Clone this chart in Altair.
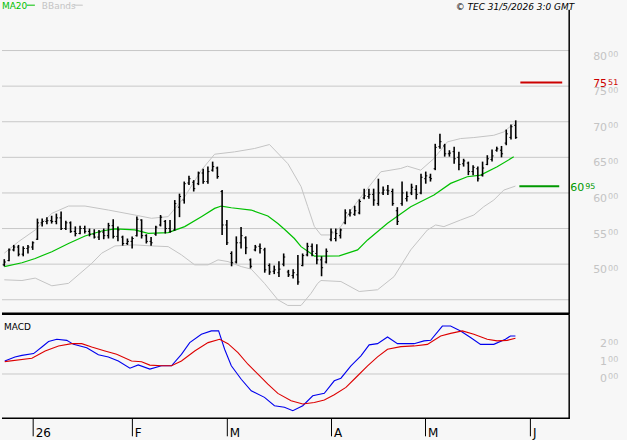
import altair as alt
import pandas as pd

# ---------------- data ----------------
HIGH = [50.7,52.2,52.7,52.7,52.5,52.7,53.2,56.4,56.4,56.6,
        56.8,57.1,57.4,56.1,56.0,55.3,55.4,55.4,55.0,54.9,
        54.8,55.0,55.8,56.3,55.3,54.0,53.6,53.9,56.7,56.3,
        54.2,53.8,55.4,56.9,56.2,56.2,59.0,59.9,61.6,62.4,
        61.8,63.0,63.4,63.7,64.4,63.7,60.4,56.2,51.8,53.9,
        55.2,53.9,50.8,52.7,52.9,52.3,50.1,49.8,50.4,51.5,
        49.2,49.3,51.3,51.5,53.0,52.9,52.8,51.1,52.2,55.0,
        55.0,55.0,57.7,57.7,58.2,59.1,60.6,60.6,60.6,62.0,
        60.9,61.1,60.6,58.0,61.6,60.2,61.3,61.1,62.7,63.0,
        62.7,66.9,68.3,66.9,66.0,66.5,65.8,64.8,64.4,63.9,
        63.7,64.4,65.3,66.1,66.5,66.6,68.9,69.6,70.2]
LOW = [49.7,50.4,51.8,51.1,51.1,51.5,52.0,53.4,55.3,55.6,
       55.7,55.6,54.8,54.8,54.4,53.9,54.2,54.3,53.9,53.6,
       53.4,53.5,53.6,53.6,53.2,52.6,52.7,52.2,53.9,53.6,
       52.9,52.6,54.0,55.3,54.3,54.4,54.7,56.6,58.5,61.1,
       60.2,61.1,61.3,61.3,63.0,62.0,54.1,52.7,49.7,50.1,
       52.2,51.4,49.4,51.8,51.5,48.8,48.5,48.6,48.2,49.7,
       48.2,48.0,47.1,49.7,51.1,51.1,50.0,48.3,50.1,53.2,
       53.2,53.6,55.6,56.7,56.8,57.0,59.1,59.2,58.2,58.2,
       59.7,59.7,58.2,55.5,58.2,58.8,59.7,59.1,59.8,61.3,
       61.6,63.2,66.2,65.1,65.1,64.1,63.2,63.7,62.5,62.5,
       61.6,62.3,63.9,64.4,65.8,65.0,66.7,67.5,67.6]
OPEN = [49.9,50.5,52.0,52.4,51.4,52.2,52.4,53.5,55.8,56.0,
        56.1,56.0,56.5,55.0,55.8,54.6,54.3,55.0,54.6,54.2,
        53.8,54.5,54.0,55.4,53.9,53.8,52.9,53.2,54.0,56.2,
        54.0,53.2,54.2,55.5,56.0,55.0,54.8,58.0,59.0,61.4,
        61.5,61.3,62.8,61.6,63.2,63.5,60.2,55.5,51.5,50.3,
        53.0,53.7,50.6,52.0,52.5,52.0,49.8,49.0,48.8,50.0,
        48.9,48.4,48.5,49.8,51.3,52.5,51.5,50.6,50.3,53.5,
        53.6,54.0,55.8,57.0,57.0,57.2,59.3,59.5,59.8,58.5,
        60.0,60.4,60.2,57.5,58.5,59.2,60.0,60.5,60.0,62.0,
        62.2,63.4,66.5,66.6,65.5,65.8,65.0,64.1,64.2,63.0,
        63.4,62.5,64.0,64.7,66.0,66.0,67.0,67.8,69.5]
CLOSE = [50.3,52.0,52.4,51.4,52.2,52.4,53.0,55.8,56.0,56.1,
         56.0,56.5,55.0,55.8,54.6,54.3,55.0,54.6,54.2,53.8,
         54.5,54.0,55.4,53.9,54.8,52.9,53.2,53.6,56.3,54.0,
         53.2,53.0,55.2,56.6,55.0,54.6,58.5,59.5,61.3,62.0,
         60.6,62.8,61.6,63.0,63.7,62.3,55.5,53.0,50.2,53.0,
         54.0,52.3,49.7,52.4,52.2,49.2,48.9,49.2,49.3,51.0,
         48.5,48.8,47.5,51.2,52.5,51.8,50.6,49.5,51.8,54.5,
         54.3,54.8,57.2,57.2,57.5,58.8,59.6,59.8,59.0,60.0,
         60.4,60.3,58.5,56.0,60.0,59.5,60.8,59.8,62.2,62.4,
         62.0,66.4,67.2,65.5,65.6,64.8,64.0,64.5,63.0,63.6,
         62.0,63.5,64.8,65.2,66.2,65.5,68.3,69.3,67.8]

MA20_I = [0,3.73,6.53,10.04,13.56,17.05,20.57,23.37,27.58,30.4,
          34.61,38.1,41.62,44.42,45.83,47.94,52.15,55.66,57.77,59.16,
          61.26,62.67,64.78,65.47,70.74,74.61,76.72,80.93,85.83,90.74,
          94.25,97.77,100.57,104.08,107.58]
MA20_V = [49.66,50.2,50.8,51.75,52.9,53.96,54.66,54.94,54.8,54.33,
          54.43,55.27,56.67,57.83,58.16,57.92,57.6,56.76,55.7,54.9,
          53.6,52.46,51.5,51.13,51.16,52.0,53.4,55.73,58.07,59.7,
          61.34,62.27,62.5,63.67,65.07]

UP_I = [0,3.03,6.53,10.04,13.56,17.05,21.98,27.58,31.09,34.61,
        38.1,41.62,44.42,48.63,52.84,56.0,59.9,62.67,64.08,65.47,
        66.88,68.99,71.09,73.2,76.72,79.52,83.73,85.14,87.94,90.74,
        93.56,96.36,99.16,103.37,105.47,107.58]
UP_V = [51.54,53.17,54.8,57.13,58.16,58.16,57.6,56.9,56.44,56.67,
        59.46,63.2,65.44,65.77,66.24,66.8,64.1,60.9,58.07,55.3,
        54.1,54.1,55.27,57.6,60.64,62.97,63.44,63.76,63.2,64.84,
        67.17,67.64,67.78,68.1,68.57,69.74]

LO_I = [0,3.73,6.53,10.04,13.56,18.46,20.57,23.37,27.58,31.09,
        34.61,37.41,40.21,43.03,45.14,47.24,50.04,52.15,54.95,57.77,
        59.87,62.67,64.78,66.18,66.88,71.09,74.95,78.82,82.32,85.83,
        89.35,91.09,92.84,96.36,99.16,101.26,103.37,105.47,107.94]
LO_V = [47.8,47.7,48.04,46.96,47.3,50.1,51.54,52.56,52.7,52.56,
        52.46,51.3,49.9,49.9,50.6,50.36,49.66,49.3,47.3,45.0,
        44.2,44.2,45.9,47.3,47.7,47.56,46.16,46.4,48.26,52.0,
        54.8,55.5,55.27,56.2,56.9,58.07,59.0,60.4,60.96]

MACD_I = [0.1,2.25,3.73,6.19,7.94,9.35,11.09,13.2,14.61,17.41,
          19.87,21.98,24.08,26.53,28.29,30.74,33.2,35.31,37.41,39.16,
          41.62,43.73,45.26,46.53,47.94,50.04,52.15,54.95,57.05,59.16,
          60.93,63.03,65.14,67.58,69.68,71.09,73.2,75.31,77.05,78.82,
          80.93,83.03,86.53,88.63,90.04,92.51,94.25,96.36,98.46,100.57,
          103.37,105.83,106.88,107.94]
MACD_V = [0.75,0.98,1.07,1.17,1.55,1.86,1.99,1.93,1.70,1.51,
          1.10,0.98,0.75,0.33,0.52,0.28,0.47,0.47,1.13,1.80,
          2.28,2.47,2.47,1.42,0.47,-0.30,-0.96,-1.34,-1.82,-1.91,
          -2.10,-1.82,-1.25,-1.11,-0.39,-0.24,0.47,1.04,1.67,1.74,
          2.12,1.74,1.74,1.90,1.93,2.75,2.75,2.47,2.09,1.70,
          1.70,1.99,2.18,2.18]
SIG_I = [0.1,5.83,8.63,11.45,14.25,16.36,18.46,21.26,23.73,26.88,
         28.99,30.74,33.2,35.31,37.41,40.21,43.03,45.47,47.24,49.35,
         51.45,53.56,55.66,57.77,60.57,63.03,65.47,67.58,69.68,72.15,
         74.25,76.72,78.82,80.93,83.73,86.53,89.35,92.15,94.25,96.72,
         99.16,101.98,104.08,106.19,107.94]
SIG_V = [0.71,0.90,1.32,1.61,1.74,1.74,1.55,1.32,1.13,0.75,
         0.70,0.51,0.47,0.47,0.75,1.32,1.80,1.99,1.74,1.23,
         0.56,-0.01,-0.58,-1.11,-1.53,-1.72,-1.63,-1.49,-1.19,-0.77,
         -0.20,0.47,0.98,1.42,1.57,1.61,1.70,2.18,2.33,2.47,
         2.28,1.99,1.90,1.93,2.05]

PRICE_GRID = [45, 50, 55, 60, 65, 70, 75, 80]
PRICE_LABELS = [50, 55, 60, 65, 70, 75, 80]
MACD_LABELS = [2, 1, 0]
MONTH_POS = [6.1, 27.05, 47.1, 69.1, 88.95, 111.1]
MONTH_TXT = ["26", "F", "M", "A", "M", "J"]
HI_LEVEL = 75.51
LO_LEVEL = 60.95

# ---------------- scales ----------------
XS = alt.Scale(domain=[-0.484, 131.5], nice=False, zero=False)
YP = alt.Scale(domain=[42.9, 87.0], nice=False, zero=False)
YM = alt.Scale(domain=[-3.743, 3.4], nice=False, zero=False)
FONT = "DejaVu Sans"
GRID = "#c8c8c8"


def xq(f):
    return alt.X(f, type="quantitative", scale=XS, axis=None)


def yp(f):
    return alt.Y(f, type="quantitative", scale=YP, axis=None)


def ym(f):
    return alt.Y(f, type="quantitative", scale=YM, axis=None)


def one(**kw):
    return alt.Chart(pd.DataFrame([kw]))


# ---------------- price panel ----------------
bars = pd.DataFrame({"i": list(range(len(HIGH))), "h": HIGH, "l": LOW,
                     "o": OPEN, "c": CLOSE})
grid = pd.DataFrame({"p": PRICE_GRID})
plab = pd.DataFrame({"p": PRICE_LABELS,
                     "big": [str(v) for v in PRICE_LABELS],
                     "small": ["00"] * len(PRICE_LABELS)})

gridlines = alt.Chart(grid).mark_rule(color=GRID, strokeWidth=1).encode(
    x=alt.value(0), x2=alt.value(569), y=yp("p"))

upper = alt.Chart(pd.DataFrame({"i": UP_I, "v": UP_V})).mark_line(
    color="#c4c4c4", strokeWidth=1).encode(x=xq("i"), y=yp("v"))
lower = alt.Chart(pd.DataFrame({"i": LO_I, "v": LO_V})).mark_line(
    color="#c4c4c4", strokeWidth=1).encode(x=xq("i"), y=yp("v"))
ma20 = alt.Chart(pd.DataFrame({"i": MA20_I, "v": MA20_V})).mark_line(
    color="#00c000", strokeWidth=1.2).encode(x=xq("i"), y=yp("v"))

bb = alt.Chart(bars).transform_calculate(il="datum.i - 0.33", ir="datum.i + 0.33")
hl = bb.mark_rule(color="black", strokeWidth=1.6).encode(
    x=xq("i"), y=yp("l"), y2="h:Q")
opn = bb.mark_rule(color="black", strokeWidth=1).encode(
    x=xq("il"), x2="i:Q", y=yp("o"))
cls = bb.mark_rule(color="black", strokeWidth=1).encode(
    x=xq("i"), x2="ir:Q", y=yp("c"))

big_lab = alt.Chart(plab).mark_text(
    align="right", baseline="alphabetic", dy=9, fontSize=11, font=FONT,
    color="#c4c4c4").encode(x=alt.value(607), y=yp("p"), text="big:N")
small_lab = alt.Chart(plab).mark_text(
    align="left", baseline="alphabetic", dy=6.5, fontSize=8, font=FONT,
    color="#c4c4c4").encode(x=alt.value(608), y=yp("p"), text="small:N")

red_line = one(p=HI_LEVEL).mark_rule(color="#cc0000", strokeWidth=2).encode(
    x=alt.value(520), x2=alt.value(562), y=yp("p"))
red_big = one(p=HI_LEVEL, t="75").mark_text(
    align="right", baseline="alphabetic", dy=4.5, fontSize=11, font=FONT,
    color="#cc0000").encode(x=alt.value(607), y=yp("p"), text="t:N")
red_small = one(p=HI_LEVEL, t="51").mark_text(
    align="left", baseline="alphabetic", dy=2.5, fontSize=8, font=FONT,
    color="#cc0000").encode(x=alt.value(608), y=yp("p"), text="t:N")

green_line = one(p=LO_LEVEL).mark_rule(color="#009900", strokeWidth=2).encode(
    x=alt.value(519), x2=alt.value(559), y=yp("p"))
green_big = one(p=LO_LEVEL, t="60").mark_text(
    align="right", baseline="alphabetic", dy=4.5, fontSize=11, font=FONT,
    color="#009900").encode(x=alt.value(584), y=yp("p"), text="t:N")
green_small = one(p=LO_LEVEL, t="95").mark_text(
    align="left", baseline="alphabetic", dy=2.5, fontSize=8, font=FONT,
    color="#009900").encode(x=alt.value(585), y=yp("p"), text="t:N")

t_ma = one(t="MA20").mark_text(align="left", baseline="alphabetic", fontSize=9,
                               font=FONT, color="#00c000").encode(
    x=alt.value(0), y=alt.value(8), text="t:N")
l_ma = one(a=1).mark_rule(color="#00c000", strokeWidth=1).encode(
    x=alt.value(25), x2=alt.value(33), y=alt.value(4.5))
t_bb = one(t="BBands").mark_text(align="left", baseline="alphabetic", fontSize=9,
                                 font=FONT, color="#c4c4c4").encode(
    x=alt.value(40), y=alt.value(8), text="t:N")
l_bb = one(a=1).mark_rule(color="#c4c4c4", strokeWidth=1).encode(
    x=alt.value(72), x2=alt.value(81), y=alt.value(4.5))
t_copy = one(t="© TEC 31/5/2026 3:0 GMT").mark_text(
    align="right", baseline="alphabetic", fontSize=9, font=FONT,
    fontStyle="italic", color="black").encode(
    x=alt.value(574), y=alt.value(9), text="t:N")

vline_top = one(a=1).mark_rule(color="black", strokeWidth=1.5).encode(
    x=alt.value(569), y=alt.value(9), y2=alt.value(315))
sep = one(a=1).mark_rule(color="black", strokeWidth=2.5).encode(
    x=alt.value(0), x2=alt.value(569), y=alt.value(314))

top = alt.layer(
    gridlines, upper, lower, ma20, hl, opn, cls,
    big_lab, small_lab, red_line, red_big, red_small,
    green_line, green_big, green_small,
    t_ma, l_ma, t_bb, l_bb, t_copy, vline_top, sep,
).properties(width=627, height=315)

# ---------------- MACD panel ----------------
zero = one(v=0).mark_rule(color=GRID, strokeWidth=1).encode(
    x=alt.value(0), x2=alt.value(569), y=ym("v"))
macd = alt.Chart(pd.DataFrame({"i": MACD_I, "v": MACD_V})).mark_line(
    color="#0000ee", strokeWidth=1.1).encode(x=xq("i"), y=ym("v"))
sig = alt.Chart(pd.DataFrame({"i": SIG_I, "v": SIG_V})).mark_line(
    color="#dd0000", strokeWidth=1.1).encode(x=xq("i"), y=ym("v"))

mlab = pd.DataFrame({"v": MACD_LABELS, "big": [str(v) for v in MACD_LABELS],
                     "small": ["00"] * len(MACD_LABELS)})
m_big = alt.Chart(mlab).mark_text(
    align="right", baseline="alphabetic", dy=8, fontSize=11, font=FONT,
    color="#c4c4c4").encode(x=alt.value(607), y=ym("v"), text="big:N")
m_small = alt.Chart(mlab).mark_text(
    align="left", baseline="alphabetic", dy=5.5, fontSize=8, font=FONT,
    color="#c4c4c4").encode(x=alt.value(608), y=ym("v"), text="small:N")

t_macd = one(t="MACD").mark_text(align="left", baseline="alphabetic",
                                 fontSize=9, font=FONT, color="black").encode(
    x=alt.value(2), y=alt.value(15.5), text="t:N")

vline_bot = one(a=1).mark_rule(color="black", strokeWidth=1.5).encode(
    x=alt.value(569), y=alt.value(0), y2=alt.value(104.5))
bottom_line = one(a=1).mark_rule(color="black", strokeWidth=1.5).encode(
    x=alt.value(0), x2=alt.value(569.7), y=alt.value(104))

months = pd.DataFrame({"i": MONTH_POS, "t": MONTH_TXT})
m_ticks = alt.Chart(months).mark_rule(color="black", strokeWidth=1).encode(
    x=xq("i"), y=alt.value(104), y2=alt.value(122))
m_text = alt.Chart(months).mark_text(
    align="left", baseline="alphabetic", dx=2.5, fontSize=12, font=FONT,
    color="black").encode(x=xq("i"), y=alt.value(122.5), text="t:N")

bottom = alt.layer(
    zero, macd, sig, m_big, m_small, t_macd, vline_bot, bottom_line,
    m_ticks, m_text,
).properties(width=627, height=125)

chart = alt.vconcat(top, bottom, spacing=0, bounds="flush").properties(
    padding=0, background="#f7f7f7",
).configure_view(stroke=None)

chart.save("out.html", embed_options={"renderer": "svg", "actions": False})
